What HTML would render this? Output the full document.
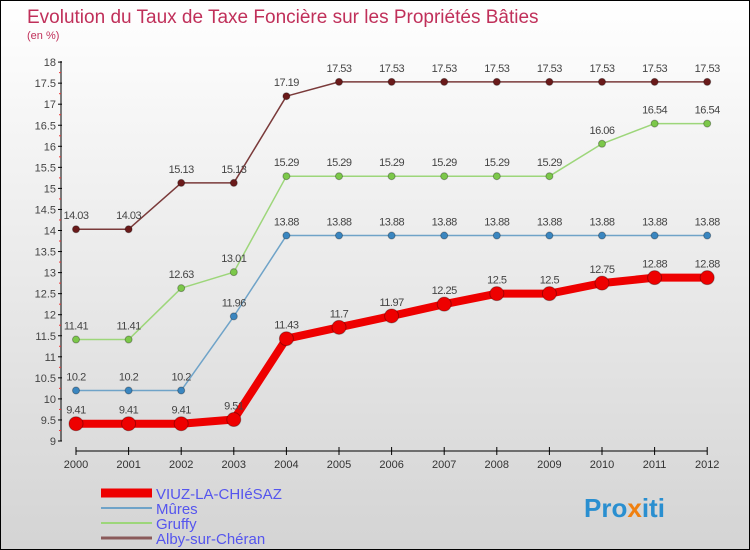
<!DOCTYPE html>
<html><head><meta charset="utf-8"><style>
body{margin:0}
#c{width:750px;height:550px;position:relative;box-sizing:border-box;border:1px solid #000;background:linear-gradient(#fff,#d4d4d4);font-family:"Liberation Sans",sans-serif;overflow:hidden}
</style></head><body>
<div id="c">
<svg id="s" width="748" height="548" xmlns="http://www.w3.org/2000/svg">
<text x="26" y="22" font-size="19" fill="#c0305a">Evolution du Taux de Taxe Foncière sur les Propriétés Bâties</text>
<text x="26" y="38" font-size="11" fill="#c0305a">(en %)</text>
<g id="g"></g>
<text x="583" y="516" font-size="26" font-weight="bold" fill="#2a8fd0">Pro<tspan fill="#f08010">x</tspan>iti</text>
</svg></div>
<script>
const years=[2000,2001,2002,2003,2004,2005,2006,2007,2008,2009,2010,2011,2012];
const viuz=[9.41,9.41,9.41,9.51,11.43,11.7,11.97,12.25,12.5,12.5,12.75,12.88,12.88];
const mures=[10.2,10.2,10.2,11.96,13.88,13.88,13.88,13.88,13.88,13.88,13.88,13.88,13.88];
const gruffy=[11.41,11.41,12.63,13.01,15.29,15.29,15.29,15.29,15.29,15.29,16.06,16.54,16.54];
const alby=[14.03,14.03,15.13,15.13,17.19,17.53,17.53,17.53,17.53,17.53,17.53,17.53,17.53];
const yTicks=[9,9.5,10,10.5,11,11.5,12,12.5,13,13.5,14,14.5,15,15.5,16,16.5,17,17.5,18];
const seriesNames=["VIUZ-LA-CHIéSAZ","Mûres","Gruffy","Alby-sur-Chéran"];
const NS="http://www.w3.org/2000/svg",g=document.getElementById('g');
const X=i=>75+i*52.6, Y=v=>440-(v-9)*42.1;
function el(t,a,p){const e=document.createElementNS(NS,t);for(const k in a)e.setAttribute(k,a[k]);(p||g).appendChild(e);return e;}
let ax=el('line',{x1:60,y1:60,x2:60,y2:440,stroke:'#000'});

yTicks.forEach((v,i)=>{el('line',{x1:57,y1:Y(v),x2:61,y2:Y(v),stroke:'#000'});
 let t=el('text',{x:55,y:Y(v)+4,'font-size':11,fill:'#444','text-anchor':'end'});t.textContent=v;
 
 if(i<yTicks.length-1)el('line',{x1:58,y1:Y(v+0.25),x2:60,y2:Y(v+0.25),stroke:'#e33'});});
let xa=el('line',{x1:75,y1:450,x2:706,y2:450,stroke:'#000'});

years.forEach((y,i)=>{el('line',{x1:X(i),y1:446,x2:X(i),y2:454,stroke:'#000'});
 let t=el('text',{x:X(i),y:467,'font-size':11,fill:'#333','text-anchor':'middle'});t.textContent=y;
 });
function series(d,col,dot,w,r,name){
 let p=el('polyline',{points:d.map((v,i)=>X(i)+','+Y(v)).join(' '),fill:'none',stroke:col,'stroke-width':w,'stroke-linejoin':'round'});
 
 d.forEach((v,i)=>{let c=el('circle',{cx:X(i),cy:Y(v),r:r,fill:dot,stroke:'rgba(0,0,0,0.3)'});
  
  let t=el('text',{x:X(i),y:Y(v)-10,'font-size':11,fill:'#444','text-anchor':'middle','letter-spacing':'-0.5'});t.textContent=v;
  });
}
series(alby,'#7a3a3a','#6a1a1a',1.5,3.5,'alby');
series(gruffy,'#9dd67a','#7cc84a',1.5,3.5,'gruffy');
series(mures,'#6fa3c8','#3a86c0',1.5,3.5,'mures');
series(viuz,'#ee0000','#ee0000',8,7,'viuz');
const lc=['#ee0000','#6fa3c8','#9dd67a','#8a5a5a'],lw=[9,2,2,3];
seriesNames.forEach((n,i)=>{let y=492+i*15;
 let l=el('line',{x1:100,y1:y,x2:151,y2:y,stroke:lc[i],'stroke-width':lw[i]});
 
 let t=el('text',{x:155,y:y+6,'font-size':15,fill:'#5555ee'});t.textContent=n;
 });
</script>
</body></html>
